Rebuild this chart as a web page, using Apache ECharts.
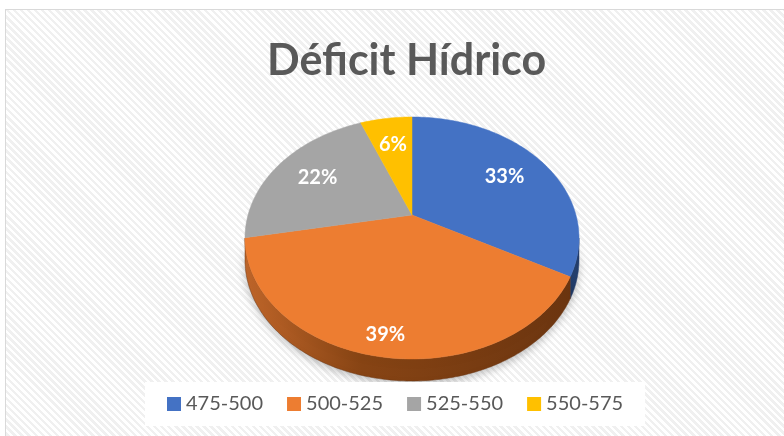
<!DOCTYPE html>
<html>
<head>
<meta charset="utf-8">
<script src="https://cdn.jsdelivr.net/npm/echarts@6/dist/echarts.min.js"></script>
<style>
body { margin: 0; background: #fff; }
#fondo {
    position: absolute; left: 5px; top: 9px; width: 800px; height: 450px;
    border: 1px solid #d9d9d9;
    background: repeating-linear-gradient(45deg, #ffffff 0px, #ffffff 2.5px, #f0f0f0 2.5px, #f0f0f0 5px);
}
#grafico { position: absolute; left: 0; top: 0; width: 784px; height: 436px; }
</style>
</head>
<body>
<div id="fondo"></div>
<div id="grafico"></div>
<script>
/*##########  Déficit Hídrico - pastel 3D  ##########*/
var categorias = ['475-500', '500-525', '525-550', '550-575'];
var valores = [33, 39, 22, 6];

var colores = ['#4472C4', '#ED7D31', '#A5A5A5', '#FFC000'];
var coloresLado = [
    ['#3a62a8', '#2c4c85', '#243f6e'],
    ['#c0662a', '#874414', '#6b3510'],
    ['#8d8d8d', '#6f6f6f', '#5c5c5c'],
    ['#d9a400', '#b38700', '#8f6c00']
];
var radioEtiqueta = [0.7, 0.87, 0.7, 0.7];

// geometria del pastel (perspectiva)
var CX = 412, CY = 238, RX = 167, RY = 121, PROF = 22, A = -0.19;
var K = Math.sqrt(1 - A * A);

function proyectar(ang, r) {
    var t = ang * Math.PI / 180;
    var u = r * Math.sin(t), v = -r * Math.cos(t);
    var w = 1 + A * v;
    return [CX + RX * K * u / w, CY + RY * (v + A) / w];
}

function arco(a0, a1) {
    var pts = [];
    var n = Math.max(2, Math.ceil((a1 - a0) / 1));
    for (var j = 0; j <= n; j++) {
        pts.push(proyectar(a0 + (a1 - a0) * j / n, 1));
    }
    return pts;
}

var total = valores.reduce(function (s, v) { return s + v; }, 0);
var frenteIni = Math.acos(A) * 180 / Math.PI;
var frenteFin = 360 - frenteIni;

function renderItem(params, api) {
    var i = params.dataIndex;
    var acum = 0;
    for (var k = 0; k < i; k++) acum += valores[k];
    var a0 = acum / total * 360;
    var a1 = (acum + api.value(0)) / total * 360;
    var hijos = [];

    // lado visible
    var s0 = Math.max(a0, frenteIni), s1 = Math.min(a1, frenteFin);
    if (s1 > s0) {
        var sup = arco(s0, s1);
        var inf = sup.map(function (p) { return [p[0], p[1] + PROF]; }).reverse();
        hijos.push({
            type: 'polygon',
            shape: { points: sup.concat(inf) },
            style: {
                fill: new echarts.graphic.LinearGradient(CX - RX, 0, CX + RX, 0, [
                    { offset: 0, color: coloresLado[i][0] },
                    { offset: 0.35, color: coloresLado[i][1] },
                    { offset: 1, color: coloresLado[i][2] }
                ], true),
                stroke: coloresLado[i][2],
                lineWidth: 0.5,
                shadowBlur: 8,
                shadowOffsetY: 3,
                shadowColor: 'rgba(0,0,0,0.25)'
            }
        });
    }

    // cara superior
    var cara = [proyectar(0, 0)].concat(arco(a0, a1));
    hijos.push({
        type: 'polygon',
        shape: { points: cara },
        style: { fill: colores[i], stroke: colores[i], lineWidth: 0.5 }
    });

    var pos = proyectar((a0 + a1) / 2, radioEtiqueta[i]);
    hijos.push({
        type: 'text',
        x: pos[0],
        y: pos[1],
        style: {
            text: Math.round(api.value(0) / total * 100) + '%',
            fill: '#ffffff',
            fontSize: 20,
            fontWeight: 'bold',
            fontFamily: 'Lato',
            align: 'center',
            verticalAlign: 'middle'
        }
    });
    return { type: 'group', children: hijos };
}

var dom = document.getElementById('grafico');
var myChart = echarts.init(dom);

var datos = categorias.map(function (c, i) { return { name: c, value: valores[i] }; });

var option = {
    backgroundColor: 'transparent',
    color: colores,
    animation: false,
    title: {
        text: 'Déficit Hídrico',
        left: 262,
        top: 35,
        textStyle: {
            color: '#595959',
            fontFamily: 'Lato',
            fontSize: 43,
            fontWeight: 'bold'
        }
    },
    legend: {
        data: categorias,
        left: 145,
        top: 382,
        backgroundColor: '#ffffff',
        padding: [12, 22],
        itemGap: 24,
        itemWidth: 14,
        itemHeight: 14,
        icon: 'rect',
        selectedMode: false,
        textStyle: {
            color: '#595959',
            fontFamily: 'Lato',
            fontSize: 20
        }
    },
    series: [
        {
            name: 'leyenda',
            type: 'pie',
            radius: 0,
            center: [CX, CY],
            silent: true,
            label: { show: false },
            labelLine: { show: false },
            data: datos
        },
        {
            name: 'Déficit Hídrico',
            type: 'custom',
            coordinateSystem: 'none',
            renderItem: renderItem,
            data: datos
        }
    ]
};
myChart.setOption(option);
</script>
</body>
</html>
